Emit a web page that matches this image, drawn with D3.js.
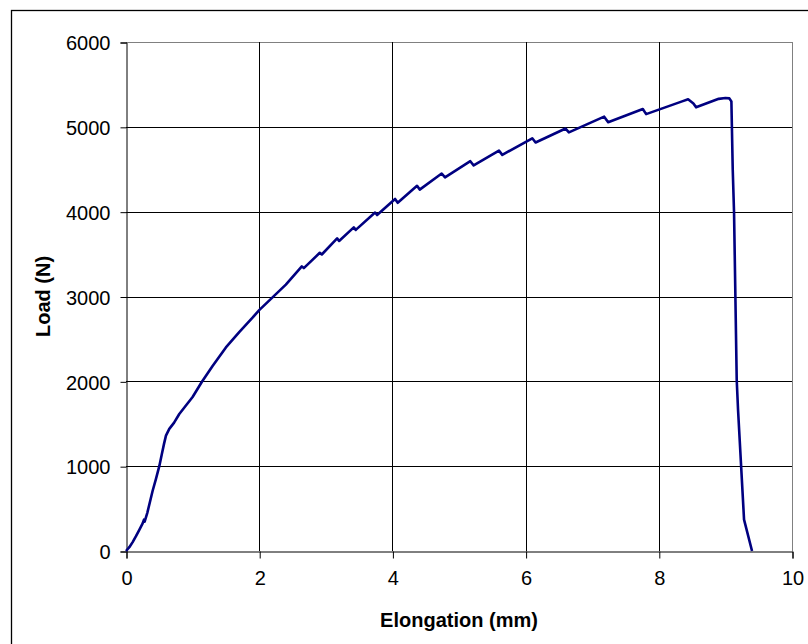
<!DOCTYPE html>
<meta charset="utf-8">
<style>
body { margin: 0; background: #fff; }
text { font-family: Arial, "Liberation Sans", sans-serif; fill: #000; }
</style>
<svg width="808" height="644"></svg>
<script src="https://d3js.org/d3.v7.min.js"></script>
<script>

// Data
var elongation = [0, 0.05, 0.1, 0.15, 0.2, 0.25, 0.27, 0.28, 0.32, 0.4, 0.45, 0.5, 0.54, 0.57, 0.6, 0.65, 0.72,
  0.8, 0.9, 1.0, 1.14, 1.3, 1.5, 1.7, 1.9, 2.0, 2.2, 2.4, 2.64, 2.67, 2.91, 2.94, 3.17, 3.2, 3.42, 3.45,
  3.74, 3.77, 4.04, 4.08, 4.37, 4.41, 4.74, 4.79, 5.17, 5.22, 5.6, 5.65, 6.1, 6.15, 6.6, 6.65, 7.18, 7.24,
  7.76, 7.81, 8.35, 8.44, 8.52, 8.56, 8.9, 9.0, 9.06, 9.09, 9.11, 9.13, 9.17, 9.19, 9.28, 9.40];
var load = [0, 45, 105, 175, 250, 325, 370, 345, 450, 710, 850, 1000, 1150, 1260, 1360, 1440, 1510,
  1615, 1715, 1815, 1995, 2180, 2400, 2580, 2750, 2840, 2990, 3140, 3355, 3335, 3515, 3495, 3685, 3655, 3815, 3785,
  3990, 3960, 4150, 4105, 4305, 4260, 4450, 4405, 4595, 4545, 4720, 4670, 4865, 4815, 4980, 4935, 5120, 5055,
  5210, 5150, 5300, 5325, 5275, 5230, 5330, 5340, 5335, 5300, 4500, 3985, 2016, 1662, 370, 0];
var xTicks = [0, 2, 4, 6, 8, 10];
var yTicks = [0, 1000, 2000, 3000, 4000, 5000, 6000];

var svg = d3.select("svg");

// outer chart border
svg.append("rect")
    .attr("x", 11.5).attr("y", 10.5)
    .attr("width", 900).attr("height", 900)
    .attr("fill", "none").attr("stroke", "#000").attr("stroke-width", 1.3);

var x = d3.scaleLinear().domain([0, 10]).range([126, 792]);
var y = d3.scaleLinear().domain([0, 6000]).range([551, 42]);

// gridlines
svg.append("g").selectAll("line")
  .data(yTicks.slice(1))
  .enter().append("line")
    .attr("x1", x(0)).attr("x2", x(10))
    .attr("y1", function(d) { return Math.round(y(d)) + 0.5; })
    .attr("y2", function(d) { return Math.round(y(d)) + 0.5; })
    .attr("stroke", function(d) { return d == 6000 ? "#808080" : "#000"; });

svg.append("g").selectAll("line")
  .data(xTicks.slice(1))
  .enter().append("line")
    .attr("y1", y(0)).attr("y2", y(6000))
    .attr("x1", function(d) { return Math.round(x(d)) + 0.5; })
    .attr("x2", function(d) { return Math.round(x(d)) + 0.5; })
    .attr("stroke", function(d) { return d == 10 ? "#808080" : "#000"; });

// axes
var yAxis = svg.append("g")
    .attr("transform", "translate(" + (x(0) + 0.5) + ",0.5)")
    .call(d3.axisLeft(y).tickValues(yTicks).tickSize(6).tickPadding(10).tickFormat(d3.format("d")));
var xAxis = svg.append("g")
    .attr("transform", "translate(0.5," + (y(0) + 0.5) + ")")
    .call(d3.axisBottom(x).tickValues(xTicks).tickSize(7).tickPadding(12).tickFormat(d3.format("d")));

[xAxis, yAxis].forEach(function(a) {
  a.select(".domain").attr("stroke", "#000");
  a.selectAll("line").attr("stroke", "#000");
  a.selectAll("text").attr("font-size", 20).attr("font-family", "Arial, 'Liberation Sans', sans-serif").attr("fill", "#000");
});
yAxis.selectAll("text").attr("dy", "0.36em");

// curve
var pts = elongation.map(function(e, i) { return [e, load[i]]; });
svg.append("path")
    .datum(pts)
    .attr("fill", "none")
    .attr("stroke", "#000080")
    .attr("stroke-width", 2.6)
    .attr("stroke-linejoin", "round")
    .attr("d", d3.line().x(function(d) { return x(d[0]); }).y(function(d) { return y(d[1]); }));

// titles
svg.append("text")
    .attr("x", (x(0) + x(10)) / 2)
    .attr("y", 627)
    .attr("text-anchor", "middle")
    .attr("font-weight", "bold")
    .attr("font-size", 20)
    .text("Elongation (mm)");

svg.append("text")
    .attr("transform", "translate(50," + ((y(0) + y(6000)) / 2) + ") rotate(-90)")
    .attr("text-anchor", "middle")
    .attr("font-weight", "bold")
    .attr("font-size", 20)
    .text("Load (N)");

</script>
